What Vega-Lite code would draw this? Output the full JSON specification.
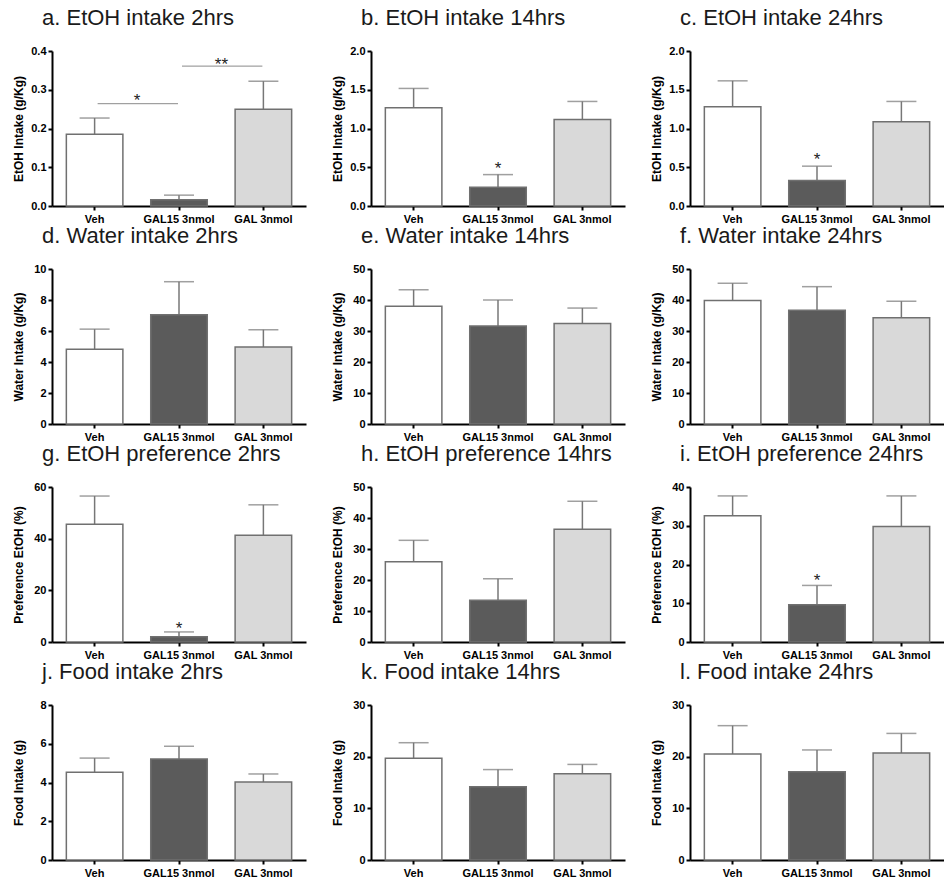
{
  "$schema": "https://vega.github.io/schema/vega-lite/v6.json",
  "padding": {"left": 12, "top": 7, "right": 0, "bottom": 0},
  "columns": 3,
  "spacing": {"row": 1, "column": 25},
  "datasets": {
    "bars": [
      {"panel": "a", "group": "Veh", "mean": 0.185, "upper": 0.227},
      {"panel": "a", "group": "GAL15 3nmol", "mean": 0.016, "upper": 0.028},
      {"panel": "a", "group": "GAL 3nmol", "mean": 0.250, "upper": 0.322},
      {"panel": "b", "group": "Veh", "mean": 1.267, "upper": 1.517},
      {"panel": "b", "group": "GAL15 3nmol", "mean": 0.241, "upper": 0.405, "sig": "*", "sig_y": 0.539},
      {"panel": "b", "group": "GAL 3nmol", "mean": 1.116, "upper": 1.349},
      {"panel": "c", "group": "Veh", "mean": 1.28, "upper": 1.615},
      {"panel": "c", "group": "GAL15 3nmol", "mean": 0.33, "upper": 0.514, "sig": "*", "sig_y": 0.66},
      {"panel": "c", "group": "GAL 3nmol", "mean": 1.088, "upper": 1.349},
      {"panel": "d", "group": "Veh", "mean": 4.83, "upper": 6.12},
      {"panel": "d", "group": "GAL15 3nmol", "mean": 7.05, "upper": 9.18},
      {"panel": "d", "group": "GAL 3nmol", "mean": 4.96, "upper": 6.08},
      {"panel": "e", "group": "Veh", "mean": 37.97, "upper": 43.3},
      {"panel": "e", "group": "GAL15 3nmol", "mean": 31.6, "upper": 40.0},
      {"panel": "e", "group": "GAL 3nmol", "mean": 32.4, "upper": 37.4},
      {"panel": "f", "group": "Veh", "mean": 39.8, "upper": 45.4},
      {"panel": "f", "group": "GAL15 3nmol", "mean": 36.7, "upper": 44.3},
      {"panel": "f", "group": "GAL 3nmol", "mean": 34.3, "upper": 39.6},
      {"panel": "g", "group": "Veh", "mean": 45.6, "upper": 56.5},
      {"panel": "g", "group": "GAL15 3nmol", "mean": 2.07, "upper": 3.9, "sig": "*", "sig_y": 6.9},
      {"panel": "g", "group": "GAL 3nmol", "mean": 41.3, "upper": 53.1},
      {"panel": "h", "group": "Veh", "mean": 25.9, "upper": 32.8},
      {"panel": "h", "group": "GAL15 3nmol", "mean": 13.5, "upper": 20.4},
      {"panel": "h", "group": "GAL 3nmol", "mean": 36.4, "upper": 45.4},
      {"panel": "i", "group": "Veh", "mean": 32.6, "upper": 37.7},
      {"panel": "i", "group": "GAL15 3nmol", "mean": 9.6, "upper": 14.6, "sig": "*", "sig_y": 17.0},
      {"panel": "i", "group": "GAL 3nmol", "mean": 29.8, "upper": 37.7},
      {"panel": "j", "group": "Veh", "mean": 4.53, "upper": 5.26},
      {"panel": "j", "group": "GAL15 3nmol", "mean": 5.21, "upper": 5.87},
      {"panel": "j", "group": "GAL 3nmol", "mean": 4.02, "upper": 4.44},
      {"panel": "k", "group": "Veh", "mean": 19.7, "upper": 22.7},
      {"panel": "k", "group": "GAL15 3nmol", "mean": 14.2, "upper": 17.5},
      {"panel": "k", "group": "GAL 3nmol", "mean": 16.7, "upper": 18.5},
      {"panel": "l", "group": "Veh", "mean": 20.5, "upper": 26.0},
      {"panel": "l", "group": "GAL15 3nmol", "mean": 17.1, "upper": 21.3},
      {"panel": "l", "group": "GAL 3nmol", "mean": 20.7, "upper": 24.5}
    ],
    "comparisons": [
      {"panel": "a", "from": "Veh", "to": "GAL15 3nmol", "line_y": 0.264, "label": "*", "label_y": 0.283},
      {"panel": "a", "from": "GAL15 3nmol", "to": "GAL 3nmol", "line_y": 0.361, "label": "**", "label_y": 0.378}
    ]
  },
  "concat": [
    {
      "title": {"text": "a. EtOH intake 2hrs"},
      "width": 254, "height": 155,
      "data": {"name": "bars"},
      "transform": [{"filter": "datum.panel === 'a'"}],
      "encoding": {
        "x": {"field": "group", "type": "nominal", "sort": null, "scale": {"domain": ["Veh", "GAL15 3nmol", "GAL 3nmol"], "paddingInner": 0.33, "paddingOuter": 0.17}, "axis": {"title": null}},
        "y": {"field": "mean", "type": "quantitative", "scale": {"domain": [0, 0.4], "nice": false}, "axis": {"title": "EtOH Intake (g/Kg)", "values": [0, 0.1, 0.2, 0.3, 0.4], "format": ".1f"}}
      },
      "layer": [
        {"mark": {"type": "rule", "color": "#777777", "strokeWidth": 1.5}, "encoding": {"y2": {"field": "upper"}}},
        {"mark": {"type": "tick", "color": "#777777", "thickness": 1.5, "size": 30}, "encoding": {"y": {"field": "upper", "type": "quantitative", "title": "EtOH Intake (g/Kg)"}}},
        {"mark": {"type": "bar", "stroke": "#707070", "strokeWidth": 1.5}, "encoding": {"fill": {"field": "group", "type": "nominal", "scale": {"domain": ["Veh", "GAL15 3nmol", "GAL 3nmol"], "range": ["#ffffff", "#5b5b5b", "#d9d9d9"]}, "legend": null}}},
        {"data": {"name": "comparisons"}, "mark": {"type": "rule", "color": "#8a8a8a", "strokeWidth": 1, "xOffset": 3, "x2Offset": -1},
         "encoding": {
           "x": {"field": "from", "type": "nominal", "bandPosition": 0.5, "scale": {"domain": ["Veh", "GAL15 3nmol", "GAL 3nmol"], "paddingInner": 0.33, "paddingOuter": 0.17}, "axis": {"title": null}},
           "x2": {"field": "to", "bandPosition": 0.5},
           "y": {"field": "line_y", "type": "quantitative", "title": "EtOH Intake (g/Kg)"}
         }},
        {"data": {"name": "comparisons"}, "mark": {"type": "text", "fontSize": 17, "dy": 10, "baseline": "alphabetic", "color": "#222222"},
         "encoding": {
           "x": {"field": "from", "type": "nominal", "bandPosition": 1.25, "scale": {"domain": ["Veh", "GAL15 3nmol", "GAL 3nmol"], "paddingInner": 0.33, "paddingOuter": 0.17}, "axis": {"title": null}},
           "y": {"field": "label_y", "type": "quantitative", "title": "EtOH Intake (g/Kg)"},
           "text": {"field": "label"}
         }}
      ]
    },
    {
      "title": {"text": "b. EtOH intake 14hrs"},
      "width": 254, "height": 155,
      "data": {"name": "bars"},
      "transform": [{"filter": "datum.panel === 'b'"}],
      "encoding": {
        "x": {"field": "group", "type": "nominal", "sort": null, "scale": {"domain": ["Veh", "GAL15 3nmol", "GAL 3nmol"], "paddingInner": 0.33, "paddingOuter": 0.17}, "axis": {"title": null}},
        "y": {"field": "mean", "type": "quantitative", "scale": {"domain": [0, 2], "nice": false}, "axis": {"title": "EtOH Intake (g/Kg)", "values": [0, 0.5, 1, 1.5, 2], "format": ".1f"}}
      },
      "layer": [
        {"mark": {"type": "rule", "color": "#777777", "strokeWidth": 1.5}, "encoding": {"y2": {"field": "upper"}}},
        {"mark": {"type": "tick", "color": "#777777", "thickness": 1.5, "size": 30}, "encoding": {"y": {"field": "upper", "type": "quantitative", "title": "EtOH Intake (g/Kg)"}}},
        {"mark": {"type": "bar", "stroke": "#707070", "strokeWidth": 1.5}, "encoding": {"fill": {"field": "group", "type": "nominal", "scale": {"domain": ["Veh", "GAL15 3nmol", "GAL 3nmol"], "range": ["#ffffff", "#5b5b5b", "#d9d9d9"]}, "legend": null}}},
        {"transform": [{"filter": "datum.sig"}], "mark": {"type": "text", "fontSize": 17, "dy": 10, "baseline": "alphabetic", "color": "#222222"}, "encoding": {"y": {"field": "sig_y", "type": "quantitative", "title": "EtOH Intake (g/Kg)"}, "text": {"field": "sig"}}}
      ]
    },
    {
      "title": {"text": "c. EtOH intake 24hrs"},
      "width": 254, "height": 155,
      "data": {"name": "bars"},
      "transform": [{"filter": "datum.panel === 'c'"}],
      "encoding": {
        "x": {"field": "group", "type": "nominal", "sort": null, "scale": {"domain": ["Veh", "GAL15 3nmol", "GAL 3nmol"], "paddingInner": 0.33, "paddingOuter": 0.17}, "axis": {"title": null}},
        "y": {"field": "mean", "type": "quantitative", "scale": {"domain": [0, 2], "nice": false}, "axis": {"title": "EtOH Intake (g/Kg)", "values": [0, 0.5, 1, 1.5, 2], "format": ".1f"}}
      },
      "layer": [
        {"mark": {"type": "rule", "color": "#777777", "strokeWidth": 1.5}, "encoding": {"y2": {"field": "upper"}}},
        {"mark": {"type": "tick", "color": "#777777", "thickness": 1.5, "size": 30}, "encoding": {"y": {"field": "upper", "type": "quantitative", "title": "EtOH Intake (g/Kg)"}}},
        {"mark": {"type": "bar", "stroke": "#707070", "strokeWidth": 1.5}, "encoding": {"fill": {"field": "group", "type": "nominal", "scale": {"domain": ["Veh", "GAL15 3nmol", "GAL 3nmol"], "range": ["#ffffff", "#5b5b5b", "#d9d9d9"]}, "legend": null}}},
        {"transform": [{"filter": "datum.sig"}], "mark": {"type": "text", "fontSize": 17, "dy": 10, "baseline": "alphabetic", "color": "#222222"}, "encoding": {"y": {"field": "sig_y", "type": "quantitative", "title": "EtOH Intake (g/Kg)"}, "text": {"field": "sig"}}}
      ]
    },
    {
      "title": {"text": "d. Water intake 2hrs"},
      "width": 254, "height": 155,
      "data": {"name": "bars"},
      "transform": [{"filter": "datum.panel === 'd'"}],
      "encoding": {
        "x": {"field": "group", "type": "nominal", "sort": null, "scale": {"domain": ["Veh", "GAL15 3nmol", "GAL 3nmol"], "paddingInner": 0.33, "paddingOuter": 0.17}, "axis": {"title": null}},
        "y": {"field": "mean", "type": "quantitative", "scale": {"domain": [0, 10], "nice": false}, "axis": {"title": "Water Intake (g/Kg)", "values": [0, 2, 4, 6, 8, 10], "format": "d"}}
      },
      "layer": [
        {"mark": {"type": "rule", "color": "#777777", "strokeWidth": 1.5}, "encoding": {"y2": {"field": "upper"}}},
        {"mark": {"type": "tick", "color": "#777777", "thickness": 1.5, "size": 30}, "encoding": {"y": {"field": "upper", "type": "quantitative", "title": "Water Intake (g/Kg)"}}},
        {"mark": {"type": "bar", "stroke": "#707070", "strokeWidth": 1.5}, "encoding": {"fill": {"field": "group", "type": "nominal", "scale": {"domain": ["Veh", "GAL15 3nmol", "GAL 3nmol"], "range": ["#ffffff", "#5b5b5b", "#d9d9d9"]}, "legend": null}}}
      ]
    },
    {
      "title": {"text": "e. Water intake 14hrs"},
      "width": 254, "height": 155,
      "data": {"name": "bars"},
      "transform": [{"filter": "datum.panel === 'e'"}],
      "encoding": {
        "x": {"field": "group", "type": "nominal", "sort": null, "scale": {"domain": ["Veh", "GAL15 3nmol", "GAL 3nmol"], "paddingInner": 0.33, "paddingOuter": 0.17}, "axis": {"title": null}},
        "y": {"field": "mean", "type": "quantitative", "scale": {"domain": [0, 50], "nice": false}, "axis": {"title": "Water Intake (g/Kg)", "values": [0, 10, 20, 30, 40, 50], "format": "d"}}
      },
      "layer": [
        {"mark": {"type": "rule", "color": "#777777", "strokeWidth": 1.5}, "encoding": {"y2": {"field": "upper"}}},
        {"mark": {"type": "tick", "color": "#777777", "thickness": 1.5, "size": 30}, "encoding": {"y": {"field": "upper", "type": "quantitative", "title": "Water Intake (g/Kg)"}}},
        {"mark": {"type": "bar", "stroke": "#707070", "strokeWidth": 1.5}, "encoding": {"fill": {"field": "group", "type": "nominal", "scale": {"domain": ["Veh", "GAL15 3nmol", "GAL 3nmol"], "range": ["#ffffff", "#5b5b5b", "#d9d9d9"]}, "legend": null}}}
      ]
    },
    {
      "title": {"text": "f. Water intake 24hrs"},
      "width": 254, "height": 155,
      "data": {"name": "bars"},
      "transform": [{"filter": "datum.panel === 'f'"}],
      "encoding": {
        "x": {"field": "group", "type": "nominal", "sort": null, "scale": {"domain": ["Veh", "GAL15 3nmol", "GAL 3nmol"], "paddingInner": 0.33, "paddingOuter": 0.17}, "axis": {"title": null}},
        "y": {"field": "mean", "type": "quantitative", "scale": {"domain": [0, 50], "nice": false}, "axis": {"title": "Water Intake (g/Kg)", "values": [0, 10, 20, 30, 40, 50], "format": "d"}}
      },
      "layer": [
        {"mark": {"type": "rule", "color": "#777777", "strokeWidth": 1.5}, "encoding": {"y2": {"field": "upper"}}},
        {"mark": {"type": "tick", "color": "#777777", "thickness": 1.5, "size": 30}, "encoding": {"y": {"field": "upper", "type": "quantitative", "title": "Water Intake (g/Kg)"}}},
        {"mark": {"type": "bar", "stroke": "#707070", "strokeWidth": 1.5}, "encoding": {"fill": {"field": "group", "type": "nominal", "scale": {"domain": ["Veh", "GAL15 3nmol", "GAL 3nmol"], "range": ["#ffffff", "#5b5b5b", "#d9d9d9"]}, "legend": null}}}
      ]
    },
    {
      "title": {"text": "g. EtOH preference 2hrs"},
      "width": 254, "height": 155,
      "data": {"name": "bars"},
      "transform": [{"filter": "datum.panel === 'g'"}],
      "encoding": {
        "x": {"field": "group", "type": "nominal", "sort": null, "scale": {"domain": ["Veh", "GAL15 3nmol", "GAL 3nmol"], "paddingInner": 0.33, "paddingOuter": 0.17}, "axis": {"title": null}},
        "y": {"field": "mean", "type": "quantitative", "scale": {"domain": [0, 60], "nice": false}, "axis": {"title": "Preference EtOH (%)", "values": [0, 20, 40, 60], "format": "d"}}
      },
      "layer": [
        {"mark": {"type": "rule", "color": "#777777", "strokeWidth": 1.5}, "encoding": {"y2": {"field": "upper"}}},
        {"mark": {"type": "tick", "color": "#777777", "thickness": 1.5, "size": 30}, "encoding": {"y": {"field": "upper", "type": "quantitative", "title": "Preference EtOH (%)"}}},
        {"mark": {"type": "bar", "stroke": "#707070", "strokeWidth": 1.5}, "encoding": {"fill": {"field": "group", "type": "nominal", "scale": {"domain": ["Veh", "GAL15 3nmol", "GAL 3nmol"], "range": ["#ffffff", "#5b5b5b", "#d9d9d9"]}, "legend": null}}},
        {"transform": [{"filter": "datum.sig"}], "mark": {"type": "text", "fontSize": 17, "dy": 10, "baseline": "alphabetic", "color": "#222222"}, "encoding": {"y": {"field": "sig_y", "type": "quantitative", "title": "Preference EtOH (%)"}, "text": {"field": "sig"}}}
      ]
    },
    {
      "title": {"text": "h. EtOH preference 14hrs"},
      "width": 254, "height": 155,
      "data": {"name": "bars"},
      "transform": [{"filter": "datum.panel === 'h'"}],
      "encoding": {
        "x": {"field": "group", "type": "nominal", "sort": null, "scale": {"domain": ["Veh", "GAL15 3nmol", "GAL 3nmol"], "paddingInner": 0.33, "paddingOuter": 0.17}, "axis": {"title": null}},
        "y": {"field": "mean", "type": "quantitative", "scale": {"domain": [0, 50], "nice": false}, "axis": {"title": "Preference EtOH (%)", "values": [0, 10, 20, 30, 40, 50], "format": "d"}}
      },
      "layer": [
        {"mark": {"type": "rule", "color": "#777777", "strokeWidth": 1.5}, "encoding": {"y2": {"field": "upper"}}},
        {"mark": {"type": "tick", "color": "#777777", "thickness": 1.5, "size": 30}, "encoding": {"y": {"field": "upper", "type": "quantitative", "title": "Preference EtOH (%)"}}},
        {"mark": {"type": "bar", "stroke": "#707070", "strokeWidth": 1.5}, "encoding": {"fill": {"field": "group", "type": "nominal", "scale": {"domain": ["Veh", "GAL15 3nmol", "GAL 3nmol"], "range": ["#ffffff", "#5b5b5b", "#d9d9d9"]}, "legend": null}}}
      ]
    },
    {
      "title": {"text": "i. EtOH preference 24hrs"},
      "width": 254, "height": 155,
      "data": {"name": "bars"},
      "transform": [{"filter": "datum.panel === 'i'"}],
      "encoding": {
        "x": {"field": "group", "type": "nominal", "sort": null, "scale": {"domain": ["Veh", "GAL15 3nmol", "GAL 3nmol"], "paddingInner": 0.33, "paddingOuter": 0.17}, "axis": {"title": null}},
        "y": {"field": "mean", "type": "quantitative", "scale": {"domain": [0, 40], "nice": false}, "axis": {"title": "Preference EtOH (%)", "values": [0, 10, 20, 30, 40], "format": "d"}}
      },
      "layer": [
        {"mark": {"type": "rule", "color": "#777777", "strokeWidth": 1.5}, "encoding": {"y2": {"field": "upper"}}},
        {"mark": {"type": "tick", "color": "#777777", "thickness": 1.5, "size": 30}, "encoding": {"y": {"field": "upper", "type": "quantitative", "title": "Preference EtOH (%)"}}},
        {"mark": {"type": "bar", "stroke": "#707070", "strokeWidth": 1.5}, "encoding": {"fill": {"field": "group", "type": "nominal", "scale": {"domain": ["Veh", "GAL15 3nmol", "GAL 3nmol"], "range": ["#ffffff", "#5b5b5b", "#d9d9d9"]}, "legend": null}}},
        {"transform": [{"filter": "datum.sig"}], "mark": {"type": "text", "fontSize": 17, "dy": 10, "baseline": "alphabetic", "color": "#222222"}, "encoding": {"y": {"field": "sig_y", "type": "quantitative", "title": "Preference EtOH (%)"}, "text": {"field": "sig"}}}
      ]
    },
    {
      "title": {"text": "j. Food intake 2hrs"},
      "width": 254, "height": 155,
      "data": {"name": "bars"},
      "transform": [{"filter": "datum.panel === 'j'"}],
      "encoding": {
        "x": {"field": "group", "type": "nominal", "sort": null, "scale": {"domain": ["Veh", "GAL15 3nmol", "GAL 3nmol"], "paddingInner": 0.33, "paddingOuter": 0.17}, "axis": {"title": null}},
        "y": {"field": "mean", "type": "quantitative", "scale": {"domain": [0, 8], "nice": false}, "axis": {"title": "Food Intake (g)", "values": [0, 2, 4, 6, 8], "format": "d"}}
      },
      "layer": [
        {"mark": {"type": "rule", "color": "#777777", "strokeWidth": 1.5}, "encoding": {"y2": {"field": "upper"}}},
        {"mark": {"type": "tick", "color": "#777777", "thickness": 1.5, "size": 30}, "encoding": {"y": {"field": "upper", "type": "quantitative", "title": "Food Intake (g)"}}},
        {"mark": {"type": "bar", "stroke": "#707070", "strokeWidth": 1.5}, "encoding": {"fill": {"field": "group", "type": "nominal", "scale": {"domain": ["Veh", "GAL15 3nmol", "GAL 3nmol"], "range": ["#ffffff", "#5b5b5b", "#d9d9d9"]}, "legend": null}}}
      ]
    },
    {
      "title": {"text": "k. Food intake 14hrs"},
      "width": 254, "height": 155,
      "data": {"name": "bars"},
      "transform": [{"filter": "datum.panel === 'k'"}],
      "encoding": {
        "x": {"field": "group", "type": "nominal", "sort": null, "scale": {"domain": ["Veh", "GAL15 3nmol", "GAL 3nmol"], "paddingInner": 0.33, "paddingOuter": 0.17}, "axis": {"title": null}},
        "y": {"field": "mean", "type": "quantitative", "scale": {"domain": [0, 30], "nice": false}, "axis": {"title": "Food Intake (g)", "values": [0, 10, 20, 30], "format": "d"}}
      },
      "layer": [
        {"mark": {"type": "rule", "color": "#777777", "strokeWidth": 1.5}, "encoding": {"y2": {"field": "upper"}}},
        {"mark": {"type": "tick", "color": "#777777", "thickness": 1.5, "size": 30}, "encoding": {"y": {"field": "upper", "type": "quantitative", "title": "Food Intake (g)"}}},
        {"mark": {"type": "bar", "stroke": "#707070", "strokeWidth": 1.5}, "encoding": {"fill": {"field": "group", "type": "nominal", "scale": {"domain": ["Veh", "GAL15 3nmol", "GAL 3nmol"], "range": ["#ffffff", "#5b5b5b", "#d9d9d9"]}, "legend": null}}}
      ]
    },
    {
      "title": {"text": "l. Food intake 24hrs"},
      "width": 254, "height": 155,
      "data": {"name": "bars"},
      "transform": [{"filter": "datum.panel === 'l'"}],
      "encoding": {
        "x": {"field": "group", "type": "nominal", "sort": null, "scale": {"domain": ["Veh", "GAL15 3nmol", "GAL 3nmol"], "paddingInner": 0.33, "paddingOuter": 0.17}, "axis": {"title": null}},
        "y": {"field": "mean", "type": "quantitative", "scale": {"domain": [0, 30], "nice": false}, "axis": {"title": "Food Intake (g)", "values": [0, 10, 20, 30], "format": "d"}}
      },
      "layer": [
        {"mark": {"type": "rule", "color": "#777777", "strokeWidth": 1.5}, "encoding": {"y2": {"field": "upper"}}},
        {"mark": {"type": "tick", "color": "#777777", "thickness": 1.5, "size": 30}, "encoding": {"y": {"field": "upper", "type": "quantitative", "title": "Food Intake (g)"}}},
        {"mark": {"type": "bar", "stroke": "#707070", "strokeWidth": 1.5}, "encoding": {"fill": {"field": "group", "type": "nominal", "scale": {"domain": ["Veh", "GAL15 3nmol", "GAL 3nmol"], "range": ["#ffffff", "#5b5b5b", "#d9d9d9"]}, "legend": null}}}
      ]
    }
  ],
  "config": {
    "view": {"stroke": null},
    "font": "Liberation Sans",
    "axis": {"domainColor": "#000000", "domainWidth": 2, "tickColor": "#000000", "tickWidth": 2, "tickSize": 4, "labelFont": "Liberation Sans", "labelFontWeight": "bold", "labelFontSize": 11, "labelColor": "#000000", "titleFont": "Liberation Sans", "titleFontWeight": "bold", "titleFontSize": 12, "titleColor": "#000000", "grid": false},
    "axisX": {"labelAngle": 0, "labelPadding": 3},
    "axisY": {"minExtent": 24, "maxExtent": 24, "titlePadding": 3, "labelPadding": 2},
    "title": {"fontSize": 22, "fontWeight": "normal", "font": "Liberation Sans", "anchor": "start", "frame": "group", "dx": -10, "offset": 15, "color": "#1a1a1a"}
  }
}
